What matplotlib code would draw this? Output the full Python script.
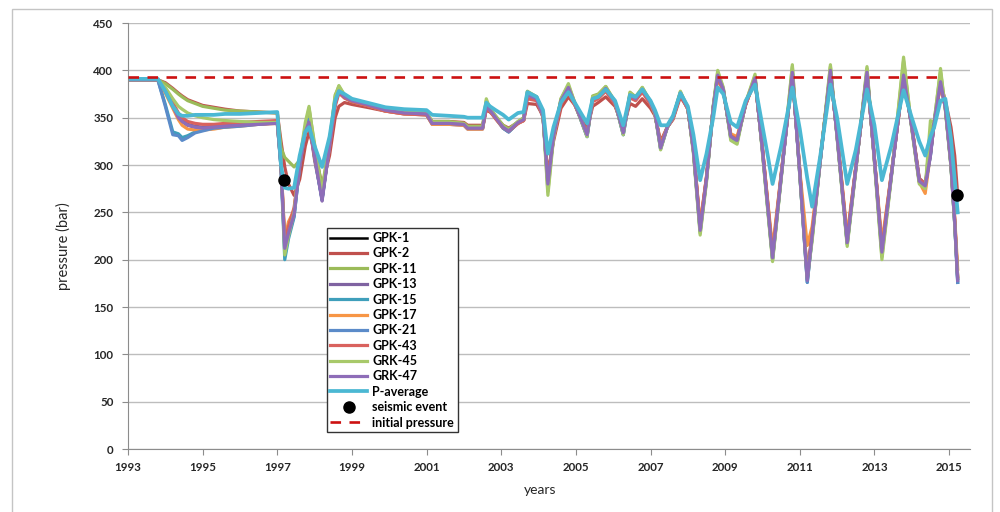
import matplotlib.pyplot as plt
from matplotlib.patches import Rectangle

plt.rcParams['font.family'] = ['Lato', 'DejaVu Sans']

# sample dates (decimal years)
years = [
    1993.0, 1993.8, 1994.0, 1994.2, 1994.35, 1994.45, 1994.6, 1994.8, 1995.0, 1995.3, 1995.6, 1996.0, 1996.5, 1997.0,
    1997.1, 1997.2, 1997.3, 1997.45, 1997.6, 1997.75, 1997.85, 1998.0, 1998.2, 1998.4, 1998.55, 1998.65, 1998.8, 1999.0, 1999.4,
    1999.9, 2000.4, 2001.0, 2001.15, 2001.6, 2002.0, 2002.1, 2002.5, 2002.6, 2002.7, 2002.85, 2003.05, 2003.2, 2003.45, 2003.6,
    2003.7, 2003.95, 2004.12, 2004.25, 2004.4, 2004.6, 2004.8, 2005.0, 2005.3, 2005.45, 2005.6, 2005.8,
    2006.05, 2006.27, 2006.45, 2006.6, 2006.78, 2007.0, 2007.12, 2007.27, 2007.45, 2007.6, 2007.8, 2008.0,
    2008.15, 2008.33, 2008.5, 2008.68, 2008.8, 2008.95, 2009.15, 2009.32, 2009.55, 2009.8, 2010.0, 2010.15, 2010.27,
    2010.5, 2010.8, 2011.0, 2011.2, 2011.33, 2011.55, 2011.82, 2012.0, 2012.27, 2012.5, 2012.8, 2013.0, 2013.2,
    2013.45, 2013.78, 2014.0, 2014.2, 2014.36, 2014.5, 2014.6, 2014.77, 2014.9, 2015.05, 2015.15, 2015.23,
]

# pressure per well (bar)
gpk1 = [
    390, 390, 378, 362, 350, 346, 342, 340, 339, 340, 341, 342, 343, 344,
    300, 212, 228, 248, 300, 335, 345, 310, 262, 320, 365, 378, 372, 368, 364,
    358, 355, 354, 344, 344, 343, 339, 339, 362, 358, 350, 340, 336, 345, 348,
    374, 370, 352, 280, 330, 368, 382, 362, 332, 370, 372, 381, 366, 334, 374, 370, 380, 366, 355, 318, 340, 350, 376, 360,
    315, 231, 285, 360, 395, 380, 330, 326, 365, 392, 315, 252, 202, 287, 398, 290, 178, 225, 305, 400,
    330, 218, 296, 398, 305, 208, 288, 395, 340, 283, 278, 310, 345, 388, 360, 300, 240, 178,
]
gpk2 = [
    390, 390, 387, 381, 376, 373, 369, 366, 363, 361, 359, 357, 356, 355,
    325, 298, 280, 268, 285, 320, 335, 315, 278, 310, 350, 362, 366, 364, 361,
    357, 355, 354, 346, 346, 345, 342, 342, 358, 356, 350, 342, 339, 345, 347,
    365, 364, 352, 290, 325, 360, 372, 362, 338, 362, 366, 372, 362, 340, 365, 362, 370, 360, 352, 325, 340, 348, 372, 360,
    318, 235, 288, 360, 392, 378, 332, 328, 364, 390, 318, 256, 206, 290, 396, 294, 184, 228, 308, 398,
    332, 222, 298, 396, 307, 212, 290, 392, 342, 286, 280, 315, 345, 386, 368, 340, 310, 268,
]
gpk11 = [
    390, 390, 386, 380, 375, 372, 368, 365, 362, 360, 358, 357, 356, 355,
    318, 308, 304, 298, 305, 340, 360, 322, 275, 325, 374, 383, 374, 369, 365,
    360, 357, 355, 346, 346, 344, 341, 341, 368, 360, 352, 342, 338, 346, 350,
    378, 372, 354, 272, 330, 370, 384, 363, 331, 373, 375, 383, 367, 333, 377, 372, 382, 367, 355, 318, 341, 350, 377, 360,
    314, 228, 284, 362, 398, 381, 328, 324, 366, 394, 314, 250, 200, 286, 404, 290, 182, 222, 305, 404,
    330, 216, 295, 402, 304, 203, 287, 410, 339, 282, 276, 335, 346, 399, 359, 299, 239, 180,
]
gpk13 = [
    390, 390, 378, 363, 352, 347, 343, 341, 340, 341, 342, 343, 344, 345,
    298, 215, 230, 250, 302, 337, 346, 305, 265, 322, 366, 378, 371, 367, 363,
    357, 354, 353, 343, 343, 342, 338, 338, 361, 357, 349, 339, 335, 344, 347,
    373, 369, 350, 282, 331, 367, 381, 361, 333, 369, 371, 380, 365, 335, 373, 369, 379, 365, 354, 320, 340, 349, 375, 359,
    316, 233, 286, 361, 394, 379, 331, 327, 364, 391, 316, 254, 204, 288, 397, 292, 180, 227, 306, 399,
    331, 220, 297, 397, 306, 210, 289, 394, 341, 285, 279, 312, 344, 387, 361, 301, 242, 180,
]
gpk15 = [
    390, 390, 364, 335, 333, 329, 331, 335, 337, 339, 340, 342, 344, 345,
    296, 200, 222, 245, 300, 337, 348, 308, 264, 321, 366, 380, 373, 368, 364,
    358, 355, 354, 344, 344, 343, 339, 339, 362, 358, 350, 339, 335, 345, 348,
    375, 370, 352, 279, 330, 368, 382, 362, 330, 370, 372, 381, 366, 332, 374, 370, 380, 366, 355, 317, 340, 350, 376, 360,
    315, 230, 285, 361, 395, 380, 329, 325, 365, 392, 315, 251, 201, 287, 398, 290, 176, 224, 305, 400,
    330, 217, 296, 398, 305, 207, 288, 395, 340, 283, 278, 310, 345, 388, 360, 300, 238, 176,
]
gpk17 = [
    390, 390, 376, 360, 348, 342, 338, 337, 337, 338, 340, 341, 343, 344,
    300, 222, 240, 252, 302, 336, 346, 308, 266, 320, 364, 377, 371, 367, 363,
    357, 354, 353, 343, 343, 342, 338, 338, 361, 357, 349, 339, 336, 344, 347,
    373, 369, 351, 283, 330, 367, 381, 361, 333, 369, 371, 380, 365, 336, 373, 369, 379, 365, 354, 322, 340, 349, 375, 359,
    316, 238, 287, 360, 393, 378, 333, 330, 364, 390, 317, 258, 212, 290, 396, 294, 215, 235, 308, 398,
    332, 226, 298, 396, 306, 218, 290, 393, 341, 282, 270, 312, 344, 386, 361, 302, 245, 190,
]
gpk21 = [
    390, 390, 362, 332, 331, 326, 329, 334, 336, 339, 340, 341, 343, 345,
    298, 208, 226, 246, 298, 336, 348, 308, 263, 321, 366, 380, 373, 368, 364,
    358, 355, 354, 344, 344, 343, 339, 339, 362, 358, 350, 339, 335, 345, 348,
    375, 370, 352, 279, 330, 368, 382, 362, 330, 370, 372, 381, 366, 332, 374, 370, 380, 366, 355, 317, 340, 350, 376, 360,
    315, 230, 285, 361, 395, 380, 329, 325, 365, 392, 315, 251, 201, 287, 398, 290, 176, 224, 305, 400,
    330, 217, 296, 398, 305, 207, 288, 395, 340, 283, 278, 310, 345, 388, 360, 300, 238, 176,
]
gpk43 = [
    390, 390, 380, 366, 355, 350, 346, 344, 343, 343, 344, 345, 346, 347,
    302, 220, 235, 255, 300, 336, 345, 308, 268, 318, 362, 376, 371, 367, 363,
    357, 354, 353, 344, 344, 343, 339, 339, 360, 357, 349, 340, 336, 344, 347,
    370, 368, 351, 285, 328, 364, 378, 361, 334, 367, 370, 378, 364, 336, 371, 368, 377, 364, 354, 321, 340, 349, 374, 359,
    317, 234, 287, 360, 393, 379, 331, 327, 364, 390, 317, 255, 205, 289, 396, 293, 183, 228, 307, 398,
    331, 221, 297, 396, 306, 211, 289, 393, 341, 285, 279, 313, 344, 386, 361, 302, 243, 182,
]
grk45 = [
    390, 390, 382, 370, 362, 359, 355, 352, 350, 348, 347, 346, 345, 345,
    305, 205, 225, 250, 305, 345, 362, 318, 270, 325, 372, 384, 374, 369, 365,
    359, 356, 355, 345, 345, 344, 340, 340, 370, 359, 351, 341, 337, 346, 349,
    377, 372, 352, 268, 328, 370, 386, 362, 330, 372, 374, 383, 366, 332, 376, 371, 382, 366, 354, 316, 340, 350, 378, 360,
    312, 226, 282, 362, 400, 382, 326, 322, 366, 396, 312, 248, 198, 285, 406, 288, 180, 220, 305, 406,
    328, 214, 294, 404, 302, 200, 286, 414, 338, 280, 275, 347, 345, 402, 358, 298, 238, 182,
]
grk47 = [
    390, 390, 378, 362, 350, 346, 342, 340, 339, 340, 341, 342, 343, 344,
    300, 212, 228, 248, 300, 335, 345, 310, 262, 320, 365, 378, 372, 368, 364,
    358, 355, 354, 344, 344, 343, 339, 339, 362, 358, 350, 340, 336, 345, 348,
    374, 370, 352, 280, 330, 368, 382, 362, 332, 370, 372, 381, 366, 334, 374, 370, 380, 366, 355, 318, 340, 350, 376, 360,
    315, 231, 285, 360, 395, 380, 330, 326, 365, 392, 315, 252, 202, 287, 398, 290, 178, 225, 305, 400,
    330, 218, 296, 398, 305, 208, 288, 395, 340, 283, 278, 310, 345, 388, 360, 300, 240, 178,
]
p_average = [
    391, 391, 378, 362, 354, 352, 352, 353, 353, 353, 354, 354, 355, 356,
    300, 276, 275, 276, 310, 335, 340, 320, 298, 330, 368, 378, 375, 370, 366,
    361, 359, 358, 353, 352, 351, 350, 350, 366, 362, 358, 353, 348, 355, 356,
    377, 372, 358, 312, 340, 366, 377, 364, 344, 370, 372, 380, 368, 342, 374, 372, 380, 368, 358, 342, 342, 352, 376, 362,
    332, 284, 312, 350, 382, 375, 345, 340, 368, 385, 341, 308, 280, 320, 382, 338, 286, 256, 310, 385,
    350, 280, 316, 380, 342, 284, 320, 379, 350, 325, 310, 330, 340, 368, 370, 328, 285, 250,
]

seismic_years = [1997.18, 2015.22]
seismic_pressure = [284, 268]

initial_pressure = 393
initial_span = [1993.0, 2014.9]

series = [
    ('GPK-1', gpk1, 'black', 1.8),
    ('GPK-2', gpk2, '#c0504d', 2.3),
    ('GPK-11', gpk11, '#9bbb59', 2.3),
    ('GPK-13', gpk13, '#7f63a1', 2.3),
    ('GPK-15', gpk15, '#3f9fbb', 2.3),
    ('GPK-17', gpk17, '#f79646', 2.3),
    ('GPK-21', gpk21, '#5b8bc9', 2.3),
    ('GPK-43', gpk43, '#d9625e', 2.3),
    ('GRK-45', grk45, '#a8c96a', 2.3),
    ('GRK-47', grk47, '#8e6db8', 2.3),
    ('P-average', p_average, '#4bb8d3', 2.7),
]

fig = plt.figure(figsize=(10, 5.12), dpi=100)
fig.patches.append(Rectangle((0.012, -0.05), 0.980, 1.032, transform=fig.transFigure,
                             fill=False, edgecolor='#c4c4c4', lw=1))

ax = fig.add_axes([0.128, 0.123, 0.842, 0.832])

for name, values, color, lw in series:
    ax.plot(years, values, color=color, lw=lw, label=name, solid_joinstyle='round')

ax.plot(seismic_years, seismic_pressure, 'o', color='black', ms=8, ls='none',
        label='seismic event', zorder=5)
ax.plot(initial_span, [initial_pressure, initial_pressure], color='#cc1111', lw=1.9,
        ls=(0, (4, 3.2)), label='initial pressure', zorder=4)

ax.set_xlim(1993, 2015.56)
ax.set_ylim(0, 450)
ax.set_xticks(range(1993, 2016, 2))
ax.set_yticks(range(0, 451, 50))
ax.yaxis.grid(True, color='#bdbdbd', lw=1)
ax.set_axisbelow(True)

for side in ['top', 'right']:
    ax.spines[side].set_visible(False)
for side in ['left', 'bottom']:
    ax.spines[side].set_color('#8c8c8c')
ax.tick_params(axis='both', direction='out', length=4.5, color='#8c8c8c',
               labelsize=8.3, labelcolor='#262626')
ax.tick_params(axis='y', pad=6)
ax.tick_params(axis='x', pad=5)
for lab in ax.get_xticklabels() + ax.get_yticklabels():
    lab.set_fontweight('bold')

fig.text(0.063, 0.52, 'pressure (bar)', rotation=90, ha='center', va='center',
         fontsize=10.5, color='#262626')
fig.text(0.54, 0.043, 'years', ha='center', va='center', fontsize=10, color='#262626')

leg = ax.legend(loc='upper left', bbox_to_anchor=(0.236, 0.518), borderaxespad=0,
                fancybox=False, edgecolor='#333333', framealpha=1, numpoints=1,
                prop={'size': 9, 'weight': 'bold'}, handlelength=2.9,
                labelspacing=0.27, borderpad=0.3, handletextpad=0.45)
leg.get_frame().set_linewidth(1.0)

fig.savefig('out.png', dpi=100)
